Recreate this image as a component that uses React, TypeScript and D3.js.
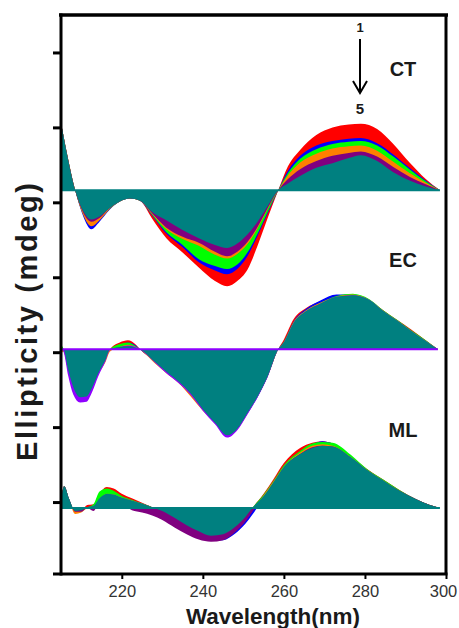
import React, { useEffect, useRef } from "react";
import * as d3 from "d3";

// ---- axis ticks ----
const xTicks = [220, 240, 260, 280, 300];
const yTicks = [10, 20, 30, 40, 50, 60, 70];

// ---- series colours (1 -> 5, then fill) ----
const ctColors = ["#ff0000", "#0000ff", "#00ff00", "#ff8000", "#800080", "#008080"];
const ecColors = ["#ff0000", "#0000ff", "#00ff00", "#ff8000", "#8f00ff", "#008080"];
const mlColors = ["#ff0000", "#0000ff", "#00ff00", "#ff8000", "#800080", "#008080"];

// ---- CT ----
const ctWavelength = [205, 206.5, 208.5, 210.5, 212.5, 214.5, 217, 219.5, 222, 224.5, 227.5, 231, 235, 239, 243, 246, 248.5, 251, 253.5, 256, 258.6, 261, 264, 268, 272, 276, 279, 283, 287, 291, 295, 298.5];
const ct1 = [9.0, 4.8, 0, -3.2, -4.6, -4.0, -2.5, -1.5, -1.1, -1.4, -3.8, -6.4, -8.3, -10.3, -12.1, -12.8, -12.1, -10.6, -7.4, -3.7, 0, 3.2, 5.4, 7.4, 8.4, 8.8, 8.9, 8.2, 6.2, 3.7, 1.5, 0];
const ct2 = [9.0, 4.8, 0, -3.5, -5.2, -4.2, -2.6, -1.5, -1.0, -1.4, -3.4, -5.8, -7.6, -9.6, -10.7, -11.2, -10.5, -8.8, -6.1, -3.1, 0, 2.6, 4.6, 6.0, 6.6, 6.9, 7.0, 6.3, 4.8, 3.0, 1.3, 0];
const ct3 = [9.0, 4.8, 0, -3.2, -4.6, -3.9, -2.5, -1.5, -1.1, -1.4, -3.3, -5.6, -7.3, -9.2, -10.1, -10.5, -9.9, -8.3, -5.8, -2.9, 0, 2.3, 4.2, 5.5, 6.2, 6.5, 6.6, 6.0, 4.5, 2.8, 1.2, 0];
const ct4 = [9.0, 4.9, 0, -3.3, -4.8, -4.0, -2.5, -1.5, -1.1, -1.4, -3.2, -5.2, -6.5, -7.4, -8.6, -9.1, -8.5, -7.2, -5.1, -2.5, 0, 2.0, 3.7, 4.9, 5.6, 5.9, 6.0, 5.3, 3.8, 2.3, 1.0, 0];
const ct5 = [9.0, 4.8, 0, -3.0, -4.2, -3.7, -2.4, -1.5, -1.1, -1.4, -3.1, -5.0, -6.2, -7.0, -8.2, -8.8, -8.2, -6.9, -4.9, -2.4, 0, 1.5, 2.8, 3.9, 4.6, 5.0, 5.2, 4.5, 3.1, 1.8, 0.8, 0];
const ctFill = [9.0, 4.8, 0, -2.8, -3.9, -3.5, -2.4, -1.5, -1.1, -1.4, -2.9, -4.0, -5.3, -6.4, -7.3, -7.7, -7.1, -5.9, -4.2, -2.1, 0, 0.9, 1.9, 3.0, 3.6, 4.3, 4.7, 3.9, 2.4, 1.3, 0.5, 0];

// ---- EC ----
const ecWavelength = [205, 205.6, 206.8, 208, 209.7, 211.3, 212.6, 214.2, 215.9, 217.1, 219.5, 221.5, 223.5, 224.5, 228, 231, 234, 237, 240, 243, 246, 248.5, 251, 253.5, 256, 258.6, 260, 262.5, 265.5, 269, 273, 277, 281, 284.5, 288, 291.5, 295, 298];
const ec1 = [0.3, 0, -2.9, -5.1, -6.5, -6.4, -5.2, -3.2, -1.5, 0, 0.9, 1.2, 0.6, 0, -1.6, -3.0, -4.3, -5.9, -8.0, -9.8, -11.5, -10.6, -8.5, -6.3, -3.6, 0, 1.3, 4.1, 5.5, 6.4, 7.1, 7.2, 6.6, 5.2, 3.9, 2.6, 1.2, 0];
const ec2 = [0.2, 0, -2.9, -5.1, -6.5, -6.4, -5.2, -3.2, -1.5, 0, 0.5, 0.9, 0.5, 0, -1.6, -3.1, -4.4, -6.0, -8.0, -9.8, -11.5, -10.6, -8.6, -6.4, -3.6, 0, 1.0, 3.8, 5.4, 6.5, 7.3, 7.3, 6.6, 5.1, 3.8, 2.4, 1.1, 0];
const ec3 = [0.6, 0.1, -2.9, -5.1, -6.5, -6.4, -5.2, -3.2, -1.5, 0, 0.7, 0.9, 0.4, 0, -1.6, -3.0, -4.3, -5.9, -8.0, -9.8, -11.5, -10.6, -8.5, -6.3, -3.6, 0, 1.0, 3.7, 5.2, 6.2, 7.1, 7.4, 6.7, 5.2, 3.9, 2.5, 1.2, 0];
const ec4 = [-0.6, -0.3, -3.0, -5.2, -6.5, -6.4, -5.3, -3.3, -1.8, -0.3, 0.3, 0.6, 0.3, 0, -1.8, -3.2, -4.5, -6.3, -8.2, -9.9, -11.6, -10.7, -8.6, -6.3, -3.6, 0, 0.9, 3.7, 5.2, 6.2, 7.0, 7.3, 6.6, 5.1, 3.8, 2.4, 1.1, 0];
const ec5 = [0, -0.3, -3.6, -6.0, -7.1, -7.0, -5.8, -3.6, -1.7, -0.1, 0.3, 0.5, 0.3, 0, -1.7, -3.2, -4.5, -6.1, -8.2, -10.0, -11.8, -10.8, -8.7, -6.4, -3.7, 0, 0.9, 3.6, 5.1, 6.1, 7.0, 7.2, 6.6, 5.1, 3.8, 2.4, 1.1, 0];
const ecFill = [0, 0, -2.8, -5.0, -6.4, -6.3, -5.2, -3.2, -1.5, 0, 0.3, 0.4, 0.2, 0, -1.6, -3.0, -4.3, -5.9, -8.0, -9.8, -11.5, -10.6, -8.5, -6.3, -3.6, 0, 0.9, 3.6, 5.1, 6.1, 7.0, 7.2, 6.6, 5.1, 3.8, 2.4, 1.1, 0];

// ---- ML ----
const mlWavelength = [205, 205.8, 207, 208.5, 210, 211.5, 213, 214.5, 216.3, 218, 220, 222.5, 225, 227.5, 230, 233, 236, 239, 242, 245, 248, 250.5, 252.2, 255, 257.5, 260, 264, 267, 269.5, 272, 276.5, 280.5, 284.5, 288.5, 292.5, 296, 298.5];
const ml1 = [1.0, 2.9, 1.2, -0.4, -0.3, 0.4, 0.5, 1.9, 2.8, 2.6, 1.9, 1.3, 0.7, 0.1, -0.4, -1.3, -2.3, -3.1, -3.7, -3.5, -2.5, -1.2, 0, 1.9, 3.9, 6.0, 8.0, 8.7, 8.9, 8.6, 6.9, 5.2, 3.8, 2.4, 1.2, 0.4, 0];
const ml2 = [1.0, 2.9, 1.2, -0.4, -0.3, 0.1, 0.3, 1.3, 1.9, 1.8, 1.4, 1.0, 0.6, 0.1, -0.8, -2.0, -3.2, -4.0, -4.4, -4.3, -3.4, -2.1, -0.9, 1.4, 3.5, 5.5, 7.5, 8.5, 8.9, 8.6, 6.9, 5.1, 3.7, 2.3, 1.2, 0.4, 0];
const ml3 = [1.0, 2.9, 1.2, -0.4, -0.3, 0.1, 0.5, 2.2, 2.6, 2.3, 1.6, 1.1, 0.6, 0.1, -0.4, -1.3, -2.3, -3.1, -3.7, -3.5, -2.5, -1.2, 0, 1.8, 3.7, 5.7, 7.6, 8.6, 8.8, 8.7, 7.1, 5.2, 3.8, 2.4, 1.2, 0.4, 0];
const ml4 = [1.0, 2.9, 1.0, -0.8, -0.6, 0, 0.2, 1.2, 1.9, 1.8, 1.4, 1.0, 0.6, 0.1, -0.7, -1.9, -3.0, -3.8, -4.2, -4.1, -3.0, -1.7, -0.4, 1.7, 3.6, 5.5, 7.4, 8.3, 8.5, 8.3, 6.8, 5.1, 3.7, 2.3, 1.2, 0.4, 0];
const ml5 = [1.0, 2.9, 1.2, -0.5, -0.5, 0, -0.4, 1.0, 1.6, 1.5, 0.8, -0.3, -0.6, -1.0, -1.6, -2.6, -3.5, -4.2, -4.5, -4.3, -3.2, -1.8, -0.5, 1.4, 3.4, 5.4, 7.2, 8.1, 8.3, 8.2, 6.7, 5.0, 3.6, 2.3, 1.2, 0.4, 0];
const mlFill = [1.0, 2.9, 1.2, -0.4, -0.3, 0.1, 0.3, 1.3, 1.9, 1.8, 1.4, 1.0, 0.6, 0.1, -0.4, -1.3, -2.3, -3.1, -3.7, -3.5, -2.5, -1.2, 0, 1.6, 3.5, 5.5, 7.2, 8.0, 8.3, 8.2, 6.8, 5.1, 3.7, 2.3, 1.2, 0.4, 0];

// vertical offsets of each spectrum (in axis units)
const ctOffset = 51.6;
const ecOffset = 30.4;
const mlOffset = 9.2;

const W = 459;
const H = 628;
const FONT = "Liberation Sans, Arial, sans-serif";

export default function App() {
  const ref = useRef<SVGSVGElement>(null);

  useEffect(() => {
    const svg = d3.select(ref.current);
    svg.selectAll("*").remove();

    const left = 61, right = 446, top = 15, bottom = 574;
    const x = d3.scaleLinear().domain([205, 300]).range([left, right]);
    const y = d3.scaleLinear().domain([0.4, 75]).range([bottom, top]);

    const spectra = [
      { label: "CT", offset: ctOffset, wl: ctWavelength, series: [ct1, ct2, ct3, ct4, ct5, ctFill], colors: ctColors, base: "#008080", labelY: 76 },
      { label: "EC", offset: ecOffset, wl: ecWavelength, series: [ec1, ec2, ec3, ec4, ec5, ecFill], colors: ecColors, base: "#8f00ff", labelY: 267 },
      { label: "ML", offset: mlOffset, wl: mlWavelength, series: [ml1, ml2, ml3, ml4, ml5, mlFill], colors: mlColors, base: "#008080", labelY: 437 },
    ];

    const g = svg.append("g");
    spectra.forEach((sp) => {
      const y0 = y(sp.offset);
      sp.series.forEach((vals, i) => {
        const pts = sp.wl.map((w, k) => ({ w, v: vals[k] }));
        const area = d3
          .area<{ w: number; v: number }>()
          .x((d) => x(d.w))
          .y0(y0)
          .y1((d) => y(sp.offset + d.v))
          .curve(d3.curveMonotoneX);
        g.append("path").attr("d", area(pts)).attr("fill", sp.colors[i]).attr("stroke", "none");
      });
      g.append("line")
        .attr("x1", x(205))
        .attr("x2", x(sp.wl[sp.wl.length - 1]))
        .attr("y1", y0)
        .attr("y2", y0)
        .attr("stroke", sp.base)
        .attr("stroke-width", 2);
      svg
        .append("text")
        .attr("x", 403)
        .attr("y", sp.labelY)
        .attr("text-anchor", "middle")
        .attr("font-family", FONT)
        .attr("font-weight", "bold")
        .attr("font-size", 20)
        .attr("fill", "#1a1a1a")
        .text(sp.label);
    });

    // Frame
    const frame = svg.append("g").attr("stroke", "#000").attr("fill", "none");
    frame.append("line").attr("x1", left - 2).attr("x2", right + 2).attr("y1", top).attr("y2", top).attr("stroke-width", 3.5);
    frame.append("line").attr("x1", right).attr("x2", right).attr("y1", top).attr("y2", bottom).attr("stroke-width", 3);

    // Left axis
    const yAxis = d3.axisLeft(y).tickValues(yTicks).tickSize(8).tickSizeOuter(0).tickFormat(() => "");
    const ya = svg.append("g").attr("transform", `translate(${left},0)`).call(yAxis);
    ya.select(".domain").attr("stroke", "#000").attr("stroke-width", 3).attr("d", `M0,${top - 1.5}V${bottom + 1.5}`);
    ya.selectAll(".tick line").attr("stroke", "#000").attr("stroke-width", 3);

    // Bottom axis
    const xAxis = d3.axisBottom(x).tickValues(xTicks).tickSize(5).tickSizeOuter(0).tickPadding(6);
    const xa = svg.append("g").attr("transform", `translate(0,${bottom})`).call(xAxis);
    xa.select(".domain").attr("stroke", "#000").attr("stroke-width", 3).attr("d", `M${left - 8},0H${right + 1.5}`);
    xa.selectAll(".tick line").attr("stroke", "#000").attr("stroke-width", 2);
    xa.selectAll(".tick text")
      .attr("font-family", FONT)
      .attr("font-size", 16.5)
      .attr("fill", "#333")
      .attr("dx", (d: any) => (d === 300 ? -3 : 0));

    // Axis titles
    svg
      .append("text")
      .attr("x", 273)
      .attr("y", 624)
      .attr("text-anchor", "middle")
      .attr("font-family", FONT)
      .attr("font-weight", "bold")
      .attr("font-size", 22.5)
      .attr("fill", "#1a1a1a")
      .text("Wavelength(nm)");
    svg
      .append("text")
      .attr("transform", "translate(37,322) rotate(-90)")
      .attr("text-anchor", "middle")
      .attr("font-family", FONT)
      .attr("font-weight", "bold")
      .attr("font-size", 29)
      .attr("fill", "#1a1a1a")
      .attr("textLength", 278)
      .attr("lengthAdjust", "spacing")
      .text("Ellipticity (mdeg)");

    // 1 -> 5 arrow
    svg.append("text").attr("x", 360).attr("y", 32).attr("text-anchor", "middle")
      .attr("font-family", FONT).attr("font-weight", "bold")
      .attr("font-size", 13).attr("fill", "#1a1a1a").text("1");
    svg.append("line").attr("x1", 360).attr("x2", 360).attr("y1", 39).attr("y2", 92)
      .attr("stroke", "#000").attr("stroke-width", 2);
    svg.append("path").attr("d", "M353,81L360,93L367,81").attr("fill", "none")
      .attr("stroke", "#000").attr("stroke-width", 2);
    svg.append("text").attr("x", 360).attr("y", 114).attr("text-anchor", "middle")
      .attr("font-family", FONT).attr("font-weight", "bold")
      .attr("font-size", 15).attr("fill", "#1a1a1a").text("5");
  }, []);

  return (
    <svg
      ref={ref}
      width={W}
      height={H}
      viewBox={`0 0 ${W} ${H}`}
      style={{ position: "absolute", left: 0, top: 0, background: "#fff" }}
    />
  );
}
